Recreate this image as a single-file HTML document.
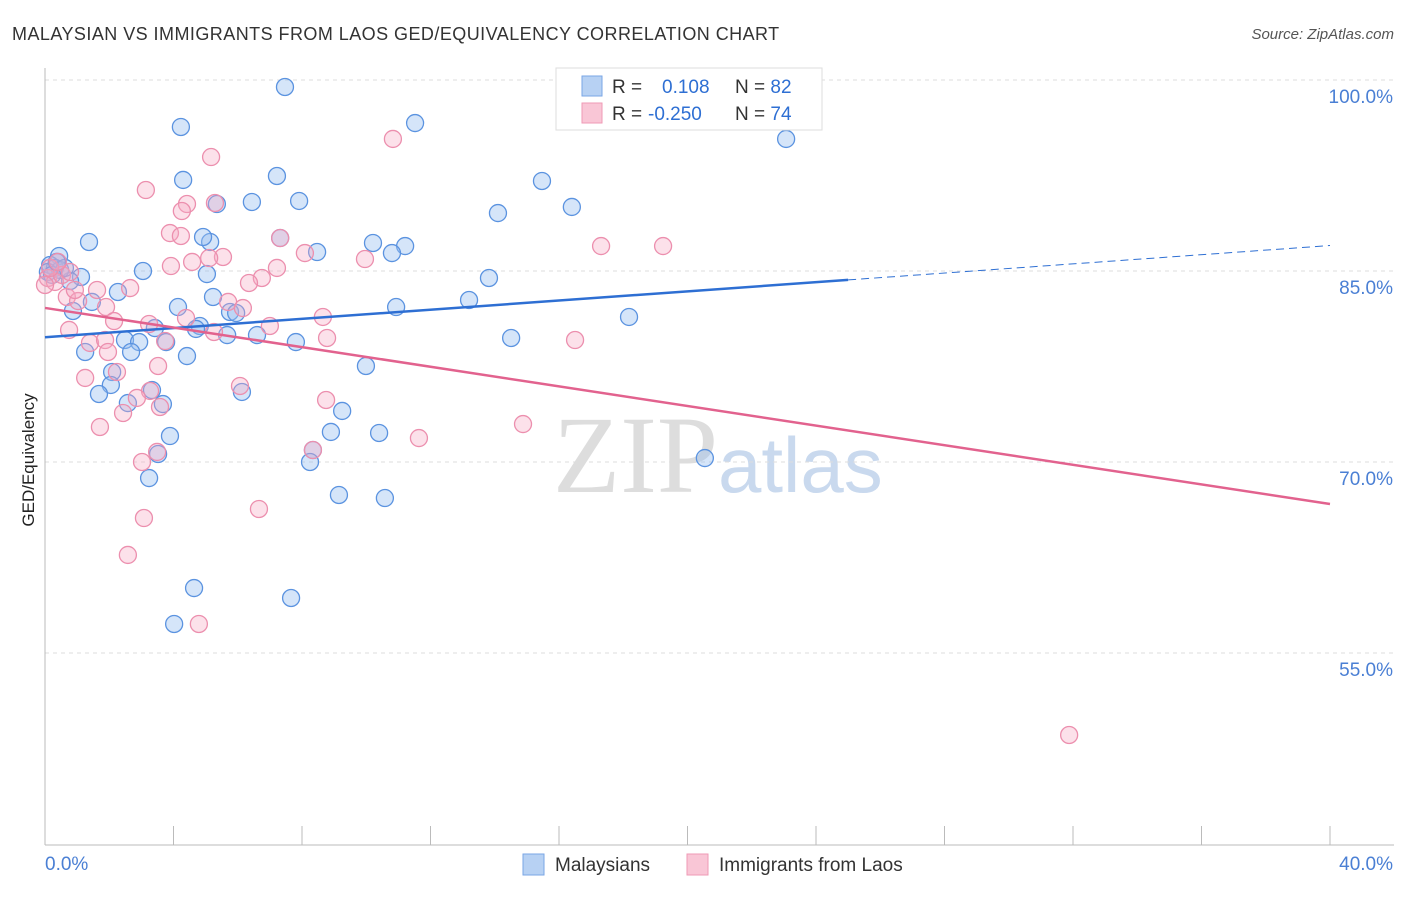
<!DOCTYPE html>
<html><head><meta charset="utf-8"><style>
body{margin:0;background:#fff;font-family:"Liberation Sans",sans-serif;}
#c{position:relative;width:1406px;height:892px;}
</style></head><body>
<div id="c">
<svg width="1406" height="892" id="svg">
<text x="12" y="40" font-size="18" letter-spacing="0.45" fill="#333">MALAYSIAN VS IMMIGRANTS FROM LAOS GED/EQUIVALENCY CORRELATION CHART</text>
<text x="1394" y="39" font-size="15" fill="#555" text-anchor="end" font-style="italic">Source: ZipAtlas.com</text>
<text x="34" y="460" font-size="17" fill="#222" text-anchor="middle" transform="rotate(-90 34 460)">GED/Equivalency</text>
<text x="553" y="492" font-size="110" fill="#ddd" font-family="Liberation Serif">ZIP</text>
<text x="718" y="492" font-size="78" fill="#c9d9ee">atlas</text>
<g id="grid"></g><g id="pts"></g><g id="lines"></g>
<g>
<rect x="556" y="68" width="266" height="62" fill="#fff" stroke="#ddd"/>
<rect x="582" y="76" width="20" height="20" fill="#b7d1f3" stroke="#7aa6e6"/>
<rect x="582" y="103" width="20" height="20" fill="#f9c6d6" stroke="#ef9ab5"/>
<text x="612" y="93" font-size="19" fill="#333">R = <tspan fill="#2e6fd3" x="662">0.108</tspan><tspan x="735" fill="#333">N = </tspan><tspan fill="#2e6fd3">82</tspan></text>
<text x="612" y="120" font-size="19" fill="#333">R = <tspan fill="#2e6fd3" x="648">-0.250</tspan><tspan x="735" fill="#333">N = </tspan><tspan fill="#2e6fd3">74</tspan></text>
</g>
<g>
<rect x="523" y="854" width="21" height="21" fill="#b7d1f3" stroke="#7aa6e6"/>
<text x="555" y="871" font-size="19" fill="#333">Malaysians</text>
<rect x="687" y="854" width="21" height="21" fill="#f9c6d6" stroke="#ef9ab5"/>
<text x="719" y="871" font-size="19" fill="#333">Immigrants from Laos</text>
</g>
</svg></div>
<script>
const yTicks=[100,85,70,55];
const xTickLabels=["0.0%","40.0%"];
const blueTrend=[79.8,84.3,87.0]; // at x=0, 25, 40
const pinkTrend=[82.1,66.7]; // at x=0,40
const bluePx=[[285,87],[181,127],[415,123],[786,139],[183,180],[277,176],[542,181],[252,202],[299,201],[498,213],[572,207],[217,204],[89,242],[210,242],[203,237],[280,238],[373,243],[405,246],[317,252],[392,253],[59,256],[143,271],[207,274],[81,277],[489,278],[70,281],[118,292],[213,297],[469,300],[92,302],[178,307],[396,307],[73,311],[230,312],[236,313],[629,317],[200,326],[155,328],[196,329],[227,335],[257,335],[296,342],[511,338],[125,340],[139,342],[166,342],[85,352],[131,352],[187,356],[366,366],[112,372],[111,385],[99,394],[242,392],[152,390],[163,404],[128,403],[342,411],[331,432],[170,436],[379,433],[158,454],[313,450],[310,462],[705,458],[149,478],[339,495],[385,498],[194,588],[291,598],[174,624],[50,265],[55,268],[60,270],[48,272],[65,268],[52,275],[57,262]];
const pinkPx=[[393,139],[211,157],[146,190],[187,204],[215,203],[182,211],[170,233],[181,236],[601,246],[663,246],[280,238],[223,257],[192,262],[209,258],[171,266],[305,253],[365,259],[277,268],[262,278],[249,283],[130,288],[97,290],[67,297],[78,301],[106,307],[114,321],[149,324],[186,318],[228,302],[243,308],[270,326],[323,317],[214,332],[327,338],[575,340],[165,341],[69,330],[90,343],[105,340],[108,352],[117,372],[158,366],[85,378],[150,391],[240,386],[137,398],[160,407],[123,413],[326,400],[100,427],[523,424],[419,438],[157,452],[142,462],[313,450],[259,509],[144,518],[128,555],[199,624],[1069,735],[48,278],[55,282],[62,275],[50,268],[70,272],[58,262],[75,290],[45,285]];
const blueX=bluePx.map(p=>+((p[0]-45)*40/1285).toFixed(2));
const blueY=bluePx.map(p=>+(100-(p[1]-80)*15/191).toFixed(2));
const pinkX=pinkPx.map(p=>+((p[0]-45)*40/1285).toFixed(2));
const pinkY=pinkPx.map(p=>+(100-(p[1]-80)*15/191).toFixed(2));
const NS="http://www.w3.org/2000/svg";
const X=v=>45+v*1285/40, Y=v=>80+(100-v)*191/15;
function mk(t,a,parent){const e=document.createElementNS(NS,t);for(const k in a)e.setAttribute(k,a[k]);document.getElementById(parent).appendChild(e);return e;}
yTicks.forEach(t=>{
 let l=mk('line',{x1:45,x2:1394,y1:Y(t),y2:Y(t),stroke:'#ddd','stroke-dasharray':'4 4'},'grid');
 
 
 let tx=mk('text',{x:1393,y:Y(t)+23,'font-size':19,fill:'#4a7fd4','text-anchor':'end'},'grid');
 tx.textContent=t.toFixed(1)+'%';
 
 
});
mk('line',{x1:45,x2:45,y1:68,y2:845,stroke:'#bbb'},'grid');
mk('line',{x1:45,x2:1394,y1:845,y2:845,stroke:'#bbb'},'grid');
for(let i=0;i<=10;i++){let l=mk('line',{x1:X(i*4),x2:X(i*4),y1:826,y2:845,stroke:'#bbb'},'grid');
 
 }
[[0,45,'start'],[1,1393,'end']].forEach(([i,x,a])=>{let t=mk('text',{x:x,y:870,'font-size':19,fill:'#4a7fd4','text-anchor':a},'grid');t.textContent=xTickLabels[i];
 
 });
blueX.forEach((x,i)=>{let c=mk('circle',{cx:X(x),cy:Y(blueY[i]),r:8.5,fill:'rgba(150,190,240,0.4)',stroke:'#5b93e0','stroke-width':1.3},'pts');
 
 });
pinkX.forEach((x,i)=>{let c=mk('circle',{cx:X(x),cy:Y(pinkY[i]),r:8.5,fill:'rgba(245,170,195,0.35)',stroke:'#ec8fae','stroke-width':1.3},'pts');
 
 });
let b=mk('line',{x1:X(0),y1:Y(blueTrend[0]),x2:X(25),y2:Y(blueTrend[1]),stroke:'#2e6fd3','stroke-width':2.5},'lines');


let bd=mk('line',{x1:X(25),y1:Y(blueTrend[1]),x2:X(40),y2:Y(blueTrend[2]),stroke:'#2e6fd3','stroke-width':1,'stroke-dasharray':'8 5'},'lines');


let p=mk('line',{x1:X(0),y1:Y(pinkTrend[0]),x2:X(40),y2:Y(pinkTrend[1]),stroke:'#e2628e','stroke-width':2.5},'lines');


</script></body></html>
